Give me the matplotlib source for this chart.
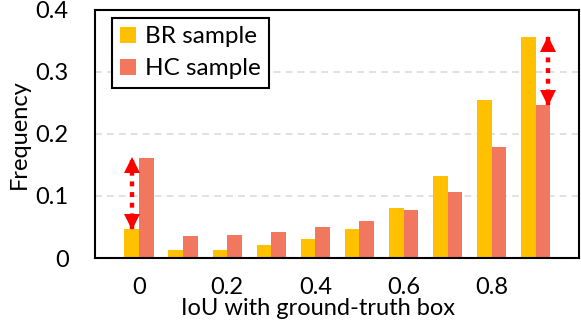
import numpy as np
import matplotlib
matplotlib.use('Agg')
import matplotlib.pyplot as plt
from matplotlib import transforms

plt.rcParams['font.family'] = ['Lato', 'DejaVu Sans']

bins = list(range(10))
br_sample = [0.046, 0.013, 0.013, 0.021, 0.030, 0.047, 0.081, 0.132, 0.254, 0.357]
hc_sample = [0.162, 0.036, 0.037, 0.042, 0.050, 0.059, 0.077, 0.106, 0.179, 0.246]
tick_labels = ['0', '0.2', '0.4', '0.6', '0.8']
y_ticks = [0, 0.1, 0.2, 0.3, 0.4]

br_color = '#FFC000'
hc_color = '#F2775F'
w = 0.333

fig = plt.figure(figsize=(5.81, 3.23), dpi=100)
ax = fig.add_axes([0.1635, 0.2012, 0.833, 0.768])

x = np.array(bins)
ax.bar(x - w / 2, br_sample, w, color=br_color, label='BR sample', zorder=2)
ax.bar(x + w / 2, hc_sample, w, color=hc_color, label='HC sample', zorder=2)

ax.set_xlim(-1.0, 9.98)
ax.set_ylim(0, 0.4)

# x labels on even bins, small inward ticks on odd bins
ax.set_xticks(x[::2])
ax.set_xticklabels(tick_labels)
ax.set_xticks(x[1::2], minor=True)
ax.tick_params(axis='x', which='major', length=0, pad=14, labelsize=17)
ax.tick_params(axis='x', which='minor', direction='in', length=6, width=1.2, color='black')
ax.set_yticks(y_ticks)
ax.set_yticklabels(['0', '0.1', '0.2', '0.3', '0.4'])
ax.tick_params(axis='y', length=0, pad=19, labelsize=17)

for v in y_ticks[1:-1]:
    ax.axhline(v, color='#D9D9D9', lw=1.1, ls=(0, (4.5, 3.3)), zorder=1)

for s in ax.spines.values():
    s.set_linewidth(1.5)
    s.set_zorder(3)

ax.set_ylabel('Frequency', fontsize=17, labelpad=4)
ax.set_xlabel('IoU with ground-truth box', fontsize=17, labelpad=0)
ax.xaxis.label.set_x(0.46)

# red dotted double arrows showing the gap in first and last bins
head = 11  # points
def gap_arrow(xpos, lo, hi):
    up = transforms.offset_copy(ax.transData, fig=fig, x=0, y=-head / 2, units='points')
    dn = transforms.offset_copy(ax.transData, fig=fig, x=0, y=head / 2, units='points')
    ax.plot([xpos, xpos], [lo, hi], color='red', lw=3.2, ls=(0, (1.1, 1.3)),
            dash_capstyle='butt', zorder=4)
    ax.plot([xpos], [hi], marker='^', ms=head, color='red', mew=0, transform=up, zorder=5)
    ax.plot([xpos], [lo], marker='v', ms=head, color='red', mew=0, transform=dn, zorder=5)

gap_arrow(x[0] - w / 2, br_sample[0], hc_sample[0])
gap_arrow(x[9] + w * 0.85, hc_sample[9], br_sample[9])

leg = ax.legend(loc='upper left', bbox_to_anchor=(0.035, 0.968), fontsize=17.5,
                frameon=True, fancybox=False, framealpha=1, edgecolor='black',
                handlelength=0.62, handleheight=0.62, handletextpad=0.4,
                labelspacing=0.45, borderpad=0.35, borderaxespad=0)
leg.get_frame().set_linewidth(1.5)

fig.savefig('out.png', dpi=100)
